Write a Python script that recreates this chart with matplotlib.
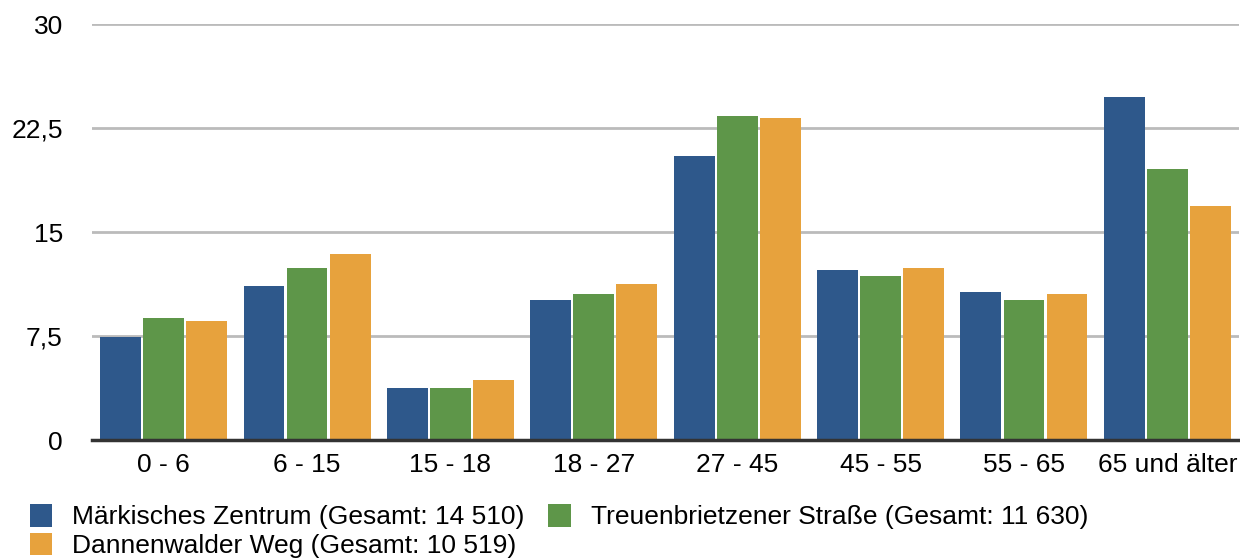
import matplotlib
matplotlib.use("Agg")
import matplotlib.pyplot as plt
import numpy as np

categories = ["0 - 6", "6 - 15", "15 - 18", "18 - 27", "27 - 45", "45 - 55", "55 - 65", "65 und älter"]
maerkisches = [7.45, 11.1, 3.75, 10.1, 20.5, 12.26, 10.67, 24.75]
treuenbrietzener = [8.8, 12.4, 3.75, 10.53, 23.36, 11.83, 10.1, 19.54]
dannenwalder = [8.58, 13.41, 4.33, 11.25, 23.22, 12.4, 10.53, 16.87]
series_labels = [
    "Märkisches Zentrum (Gesamt: 14 510)",
    "Treuenbrietzener Straße (Gesamt: 11 630)",
    "Dannenwalder Weg (Gesamt: 10 519)",
]
colors = ["#2E588B", "#5E9649", "#E7A23D"]
yticks = [0, 7.5, 15, 22.5, 30]
ytick_labels = ["0", "7,5", "15", "22,5", "30"]

plt.rcParams["font.family"] = ["Liberation Sans", "DejaVu Sans"]
FS = 19

fig = plt.figure(figsize=(12.4, 5.6), dpi=100)
ax = fig.add_axes([92 / 1240, 1 - 440 / 560, 1147 / 1240, 416 / 560])

x = np.arange(len(categories))
width = 0.285
handles = []
for i, (vals, lbl, col) in enumerate(zip([maerkisches, treuenbrietzener, dannenwalder], series_labels, colors)):
    h = ax.bar(x + (i - 1) * 0.3, vals, width, color=col, label=lbl, zorder=3)
    handles.append(h)

ax.set_xlim(-0.5, len(categories) - 0.5)
ax.set_ylim(0, 30)
ax.set_yticks(yticks)
ax.set_yticklabels(ytick_labels)
ax.set_xticks(x)
ax.set_xticklabels(categories)
ax.tick_params(axis="y", length=0, pad=21, labelsize=FS)
ax.tick_params(axis="x", length=0, pad=9, labelsize=FS)
ax.yaxis.grid(True, color="#BBBBBB", linewidth=2, zorder=0)
ax.set_axisbelow(True)
for s in ["top", "right", "left"]:
    ax.spines[s].set_visible(False)
ax.spines["bottom"].set_color("#333333")
ax.spines["bottom"].set_linewidth(2.5)
ax.spines["bottom"].set_zorder(4)

order = [0, 2, 1]
fig.legend(
    [handles[k] for k in order],
    [series_labels[k] for k in order],
    ncol=2,
    loc="upper left",
    bbox_to_anchor=(30 / 1240, 1 - 504 / 560),
    frameon=False,
    fontsize=FS,
    handlelength=0.85,
    handleheight=0.95,
    handletextpad=0.75,
    columnspacing=0.9,
    labelspacing=0.12,
    borderpad=0.0,
    borderaxespad=0.0,
)

fig.savefig("out.png", dpi=100)
